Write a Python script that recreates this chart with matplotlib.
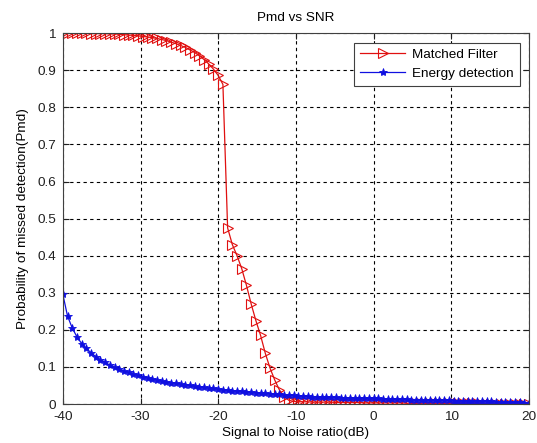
import matplotlib
matplotlib.use("Agg")
from matplotlib import pyplot as plt
import numpy as np

plt.rcParams['font.family'] = ['Liberation Sans', 'DejaVu Sans']
plt.rcParams['axes.unicode_minus'] = False

# SNR grid (dB), 100 points from -40 to 20
snr = np.linspace(-40, 20, 100)

# Matched filter Pmd
pmd_mf = [1.000, 1.000, 1.000, 1.000, 1.000, 1.000, 0.999, 0.999, 0.999, 0.999,
          0.998, 0.998, 0.997, 0.996, 0.995, 0.994, 0.993, 0.991, 0.990, 0.988,
          0.986, 0.983, 0.980, 0.976, 0.972, 0.967, 0.962, 0.955, 0.948, 0.939,
          0.929, 0.917, 0.903, 0.886, 0.862, 0.475, 0.430, 0.400, 0.365, 0.320,
          0.270, 0.225, 0.185, 0.137, 0.097, 0.065, 0.038, 0.020, 0.010, 0.007,
          0.006, 0.006, 0.006, 0.005, 0.005, 0.005, 0.005, 0.005, 0.004, 0.004,
          0.004, 0.004, 0.004, 0.004, 0.003, 0.003, 0.003, 0.003, 0.003, 0.003,
          0.003, 0.003, 0.003, 0.002, 0.002, 0.002, 0.002, 0.002, 0.002, 0.002,
          0.002, 0.002, 0.002, 0.002, 0.002, 0.002, 0.002, 0.002, 0.002, 0.001,
          0.001, 0.001, 0.001, 0.001, 0.001, 0.001, 0.001, 0.001, 0.001, 0.001]

# Energy detection Pmd
pmd_ed = [0.296, 0.237, 0.205, 0.181, 0.163, 0.150, 0.138, 0.128, 0.119, 0.112,
          0.105, 0.099, 0.094, 0.089, 0.085, 0.081, 0.077, 0.074, 0.071, 0.068,
          0.065, 0.062, 0.060, 0.058, 0.056, 0.054, 0.052, 0.050, 0.048, 0.046,
          0.045, 0.043, 0.042, 0.040, 0.039, 0.038, 0.036, 0.035, 0.034, 0.033,
          0.032, 0.031, 0.030, 0.029, 0.028, 0.027, 0.026, 0.025, 0.024, 0.023,
          0.022, 0.021, 0.021, 0.020, 0.020, 0.019, 0.019, 0.018, 0.018, 0.017,
          0.017, 0.017, 0.016, 0.016, 0.016, 0.015, 0.015, 0.015, 0.014, 0.014,
          0.014, 0.013, 0.013, 0.013, 0.012, 0.012, 0.012, 0.011, 0.011, 0.011,
          0.010, 0.010, 0.010, 0.009, 0.009, 0.009, 0.008, 0.008, 0.008, 0.007,
          0.007, 0.007, 0.006, 0.006, 0.006, 0.005, 0.005, 0.005, 0.004, 0.004]

yticklabels = ['0', '0.1', '0.2', '0.3', '0.4', '0.5', '0.6', '0.7', '0.8', '0.9', '1']

fig = plt.figure(figsize=(5.37, 4.43), dpi=100)
ax = fig.add_axes([0.117, 0.088, 0.868, 0.837])

ax.plot(snr, pmd_mf, color='#e01010', linewidth=0.9, marker='>', markersize=6.5,
        markerfacecolor='none', markeredgecolor='#e01010', markeredgewidth=0.8,
        label='Matched Filter')
ax.plot(snr, pmd_ed, color='#1010e0', linewidth=0.9, marker='*', markersize=6,
        markeredgewidth=0.6, label='Energy detection')

ax.set_xlim(-40, 20)
ax.set_ylim(0, 1)
ax.set_xticks(np.arange(-40, 21, 10))
ax.set_yticks(np.arange(0, 1.01, 0.1))
ax.set_yticklabels(yticklabels)
ax.grid(True, color='black', linestyle=(0, (3, 3)), linewidth=0.8)
ax.tick_params(direction='in', top=True, right=True, labelsize=9.7, length=4,
               colors='#202020')
ax.tick_params(axis='x', pad=5)
ax.tick_params(axis='y', pad=5)
for s in ax.spines.values():
    s.set_color('#404040')

ax.set_title('Pmd vs SNR', fontsize=9.7, pad=9)
ax.set_xlabel('Signal to Noise ratio(dB)', fontsize=9.7, labelpad=3)
ax.set_ylabel('Probability of missed detection(Pmd)', fontsize=9.7, labelpad=6)

leg = ax.legend(loc='upper right', fontsize=9.7, fancybox=False, framealpha=1,
                edgecolor='#404040', handlelength=3.4, borderpad=0.45,
                handletextpad=0.5, labelspacing=0.45,
                bbox_to_anchor=(0.995, 0.993))
leg.get_frame().set_linewidth(0.8)

fig.savefig('out.png', dpi=100)
